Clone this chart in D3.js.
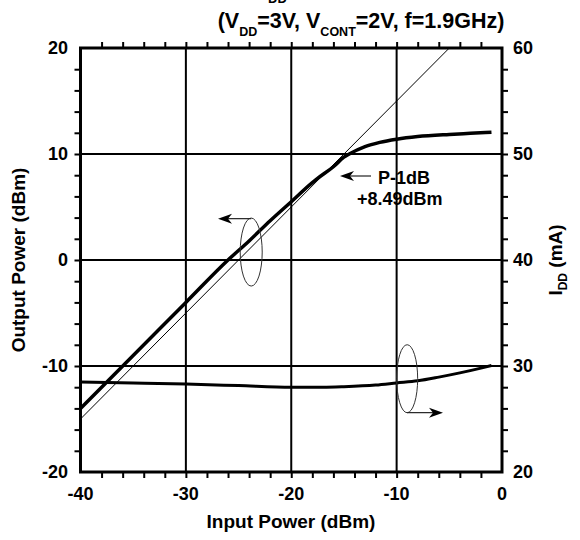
<!DOCTYPE html>
<html>
<head>
<meta charset="utf-8">
<script src="https://cdnjs.cloudflare.com/ajax/libs/d3/7.8.5/d3.min.js"></script>
<style>
  body { margin: 0; background: #fff; }
  text { font-family: "Liberation Sans", Arial, Helvetica, sans-serif; font-weight: bold; fill: #000; }
</style>
</head>
<body>
<div id="chart"></div>
<script>
"use strict";
// data
const pinOut = [-40, -35, -30, -26, -24, -22, -20, -18, -17.5, -16, -15, -14.5, -13, -11.6, -10, -8, -5, -3, -1]
const pout = [-14, -9, -4, 0, 1.8, 3.7, 5.5, 7.3, 7.7, 8.8, 9.7, 10.0, 10.7, 11.1, 11.4, 11.65, 11.85, 11.95, 12.05]
const pinRef = [-40, -5]
const poutRef = [-15, 20]
const pinIdd = [-40, -35, -30, -25, -20, -17, -15, -12, -10, -8, -6, -4, -2, -1]
const idd = [28.5, 28.4, 28.3, 28.15, 28.0, 28.0, 28.05, 28.2, 28.4, 28.6, 28.95, 29.35, 29.8, 30.05]
const xTicks = [-40, -30, -20, -10, 0]
const yTicks = [-20, -10, 0, 10, 20]
const y2Ticks = [20, 30, 40, 50, 60]

const m = { left: 80.5, right: 502, top: 48, bottom: 472 }
const svg = d3.select("#chart").append("svg")
    .attr("width", 580)
    .attr("height", 540)

const x = d3.scaleLinear().domain([-40, 0]).range([m.left, m.right])
const y = d3.scaleLinear().domain([-20, 20]).range([m.bottom, m.top])
const y2 = d3.scaleLinear().domain([20, 60]).range([m.bottom, m.top])

// grid lines
svg.append("g").selectAll("line").data([-30, -20, -10]).enter().append("line")
    .attr("x1", d => x(d)).attr("x2", d => x(d))
    .attr("y1", m.top).attr("y2", m.bottom)
    .attr("stroke", "#000").attr("stroke-width", 2)
svg.append("g").selectAll("line").data([-10, 0, 10]).enter().append("line")
    .attr("x1", m.left).attr("x2", m.right)
    .attr("y1", d => y(d)).attr("y2", d => y(d))
    .attr("stroke", "#000").attr("stroke-width", 2)

// minor inward ticks on all four sides
const minorX = d3.range(-38, 0, 2)
const minorY = d3.range(-18, 20, 2)
const tl = 6
svg.append("g").call(d3.axisTop(x).tickValues(minorX).tickSize(-tl).tickFormat(""))
    .attr("transform", "translate(0," + m.bottom + ")")
svg.append("g").call(d3.axisBottom(x).tickValues(minorX).tickSize(-tl).tickFormat(""))
    .attr("transform", "translate(0," + m.top + ")")
svg.append("g").call(d3.axisRight(y).tickValues(minorY).tickSize(-tl).tickFormat(""))
    .attr("transform", "translate(" + m.left + ",0)")
svg.append("g").call(d3.axisLeft(y).tickValues(minorY).tickSize(-tl).tickFormat(""))
    .attr("transform", "translate(" + m.right + ",0)")
svg.selectAll(".tick line").attr("stroke", "#000").attr("stroke-width", 2)
svg.selectAll(".domain").remove()

// frame
svg.append("rect")
    .attr("x", m.left).attr("y", m.top)
    .attr("width", m.right - m.left).attr("height", m.bottom - m.top)
    .attr("fill", "none").attr("stroke", "#000").attr("stroke-width", 3)

// tick labels
svg.append("g").selectAll("text").data(xTicks).enter().append("text")
    .attr("x", d => x(d)).attr("y", 500)
    .attr("text-anchor", "middle").style("font-size", "18px")
    .text(d => d)
svg.append("g").selectAll("text").data(yTicks).enter().append("text")
    .attr("x", 68).attr("y", d => y(d) + 6)
    .attr("text-anchor", "end").style("font-size", "18px")
    .text(d => d)
svg.append("g").selectAll("text").data(y2Ticks).enter().append("text")
    .attr("x", 513).attr("y", d => y2(d) + 6)
    .attr("text-anchor", "start").style("font-size", "18px")
    .text(d => d)

// axis titles
svg.append("text")
    .attr("x", 291).attr("y", 528)
    .attr("text-anchor", "middle").style("font-size", "19px")
    .text("Input Power (dBm)")
svg.append("text")
    .attr("transform", "translate(25,260) rotate(-90)")
    .attr("text-anchor", "middle").style("font-size", "19px")
    .text("Output Power (dBm)")
const t2 = svg.append("text")
    .attr("transform", "translate(562,260) rotate(-90)")
    .attr("text-anchor", "middle").style("font-size", "19px")
t2.append("tspan").text("I")
t2.append("tspan").attr("dy", 5).style("font-size", "12px").text("DD")
t2.append("tspan").attr("dy", -5).text(" (mA)")

// title (first line is cut off by the top edge, only its subscript shows)
const t0 = svg.append("text")
    .attr("x", 268).attr("y", -6).style("font-size", "21px")
t0.append("tspan").attr("dy", 9).style("font-size", "13px").text("DD")
const t1 = svg.append("text")
    .attr("x", 361).attr("y", 28)
    .attr("text-anchor", "middle").style("font-size", "21.5px")
t1.append("tspan").text("(V")
t1.append("tspan").attr("dy", 8).style("font-size", "12.5px").text("DD")
t1.append("tspan").attr("dy", -8).text("=3V, V")
t1.append("tspan").attr("dy", 8).style("font-size", "12.5px").text("CONT")
t1.append("tspan").attr("dy", -8).text("=2V, f=1.9GHz)")

// curves
svg.append("clipPath").attr("id", "plot").append("rect")
    .attr("x", m.left).attr("y", m.top)
    .attr("width", m.right - m.left).attr("height", m.bottom - m.top)
const plot = svg.append("g").attr("clip-path", "url(#plot)")

plot.append("path")
    .datum(pinRef.map((d, i) => [d, poutRef[i]]))
    .attr("d", d3.line().x(d => x(d[0])).y(d => y(d[1])))
    .attr("fill", "none").attr("stroke", "#000").attr("stroke-width", 1)
plot.append("path")
    .datum(pinOut.map((d, i) => [d, pout[i]]))
    .attr("d", d3.line().x(d => x(d[0])).y(d => y(d[1])).curve(d3.curveMonotoneX))
    .attr("fill", "none").attr("stroke", "#000").attr("stroke-width", 3.5)
plot.append("path")
    .datum(pinIdd.map((d, i) => [d, idd[i]]))
    .attr("d", d3.line().x(d => x(d[0])).y(d => y2(d[1])).curve(d3.curveMonotoneX))
    .attr("fill", "none").attr("stroke", "#000").attr("stroke-width", 3)

// annotations: ellipses with arrows
function arrow(x1, yy, x2) {
    const dir = x2 > x1 ? 1 : -1
    svg.append("line")
        .attr("x1", x1).attr("y1", yy).attr("x2", x2 - dir * 4).attr("y2", yy)
        .attr("stroke", "#222").attr("stroke-width", 1.2)
    svg.append("path")
        .attr("d", "M" + x2 + "," + yy + " L" + (x2 - dir * 14) + "," + (yy - 5) +
            " L" + (x2 - dir * 10) + "," + yy + " L" + (x2 - dir * 14) + "," + (yy + 5) + "Z")
        .attr("fill", "#000")
}
svg.append("ellipse")
    .attr("cx", x(-23.8)).attr("cy", y(0.75)).attr("rx", 11).attr("ry", 34)
    .attr("fill", "none").attr("stroke", "#333").attr("stroke-width", 1)
arrow(x(-23.8), y(3.9), 218)
svg.append("ellipse")
    .attr("cx", x(-9)).attr("cy", y2(28.8)).attr("rx", 10.5).attr("ry", 34)
    .attr("fill", "none").attr("stroke", "#333").attr("stroke-width", 1)
arrow(x(-9), y2(25.6), 443)

// P-1dB callout
arrow(371, 176, 340)
svg.append("text").attr("x", 378).attr("y", 184).style("font-size", "18px").text("P-1dB")
svg.append("text").attr("x", 357).attr("y", 205).style("font-size", "18px").text("+8.49dBm")
</script>
</body>
</html>
